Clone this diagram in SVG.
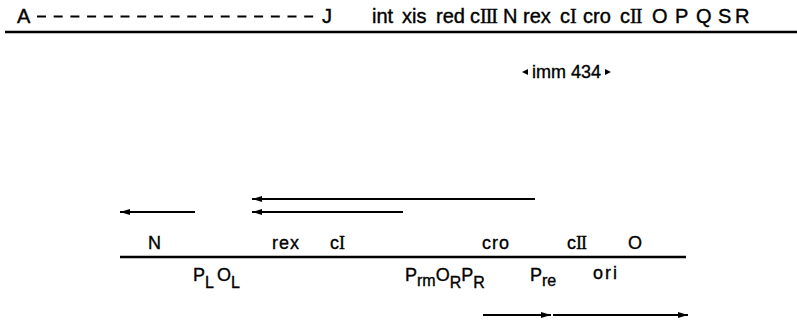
<svg xmlns="http://www.w3.org/2000/svg" width="797" height="323" viewBox="0 0 797 323">
<defs>
<style>
.t{font-family:"Liberation Sans",Arial,sans-serif;font-size:20px;fill:#000;stroke:#000;stroke-width:0.4}
.b{font-family:"Liberation Sans",Arial,sans-serif;font-size:18px;fill:#000;stroke:#000;stroke-width:0.35}
.s{font-size:16px}
.r{font-family:"Liberation Serif","Times New Roman",serif}
.ln{stroke:#000;fill:none}
</style>
<marker id="ah" viewBox="0 0 10 6" refX="10" refY="3" markerWidth="10" markerHeight="6" markerUnits="userSpaceOnUse" orient="auto">
<path d="M0,0 L10,3 L0,6 Z" fill="#000"/>
</marker>
</defs>
<rect width="797" height="323" fill="#fff"/>
<g id="top-map">
<line class="ln" x1="5" y1="32" x2="797" y2="32" stroke-width="2.5"/>
<text class="t" x="17" y="23">A</text>
<line class="ln" x1="37" y1="16.5" x2="318" y2="16.5" stroke-width="2" stroke-dasharray="9 7.7"/>
<text class="t" x="322" y="23">J</text>
<text class="t" x="372" y="23">int</text>
<text class="t" x="402" y="23">xis</text>
<text class="t" x="436" y="23">red</text>
<text class="t" x="470" y="23">c<tspan class="r" letter-spacing="-1">III</tspan></text>
<text class="t" x="503" y="23">N</text>
<text class="t" x="523" y="23">rex</text>
<text class="t" x="560" y="23">c<tspan class="r">I</tspan></text>
<text class="t" x="583" y="23">cro</text>
<text class="t" x="620" y="23">c<tspan class="r" letter-spacing="-1">II</tspan></text>
<text class="t" x="652" y="23">O</text>
<text class="t" x="675" y="23">P</text>
<text class="t" x="696" y="23">Q</text>
<text class="t" x="718" y="23">S</text>
<text class="t" x="735" y="23">R</text>
</g>
<g id="imm434">
<path d="M522,72 L528,69 L528,75 Z" fill="#000"/>
<text class="b" x="532" y="78">imm 434</text>
<path d="M611,72 L605,69 L605,75 Z" fill="#000"/>
</g>
<g id="bottom-map">
<line class="ln" x1="120" y1="257" x2="686" y2="257" stroke-width="2.5"/>
<text class="b" x="148" y="249">N</text>
<text class="b" x="272" y="249" letter-spacing="1">rex</text>
<text class="b" x="330" y="249">c<tspan class="r">I</tspan></text>
<text class="b" x="482" y="249" letter-spacing="1">cro</text>
<text class="b" x="567" y="249">c<tspan class="r" letter-spacing="-1">II</tspan></text>
<text class="b" x="628" y="249">O</text>
</g>
<g id="promoters">
<text class="b" x="193" y="281">P<tspan class="s" dy="7">L</tspan><tspan dy="-7" dx="3">O</tspan><tspan class="s" dy="7">L</tspan></text>
<text class="b" x="405" y="281">P<tspan class="s" dy="5">rm</tspan><tspan dy="-5">O</tspan><tspan class="s" dy="7">R</tspan><tspan dy="-7">P</tspan><tspan class="s" dy="7">R</tspan></text>
<text class="b" x="530" y="281">P<tspan class="s" dy="5">re</tspan></text>
<text class="b" x="593" y="279" letter-spacing="2">ori</text>
</g>
<g id="connectors">
<line class="ln" x1="535" y1="199" x2="252" y2="199" stroke-width="2" marker-end="url(#ah)"/>
<line class="ln" x1="403" y1="212" x2="252" y2="212" stroke-width="2" marker-end="url(#ah)"/>
<line class="ln" x1="195" y1="212" x2="120" y2="212" stroke-width="2" marker-end="url(#ah)"/>
<line class="ln" x1="483" y1="315" x2="551" y2="315" stroke-width="2" marker-end="url(#ah)"/>
<line class="ln" x1="553" y1="315" x2="688" y2="315" stroke-width="2" marker-end="url(#ah)"/>
</g>
</svg>
